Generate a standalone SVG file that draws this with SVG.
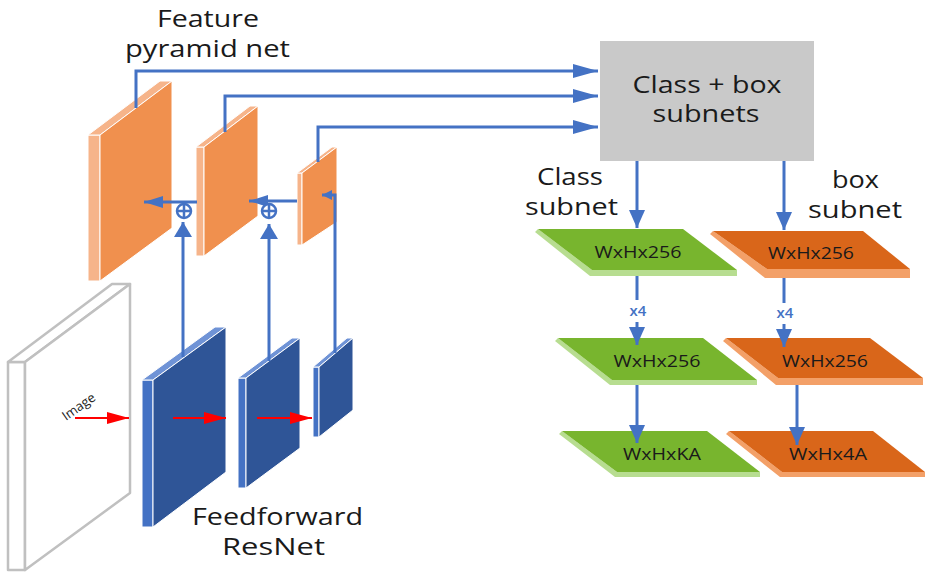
<svg xmlns="http://www.w3.org/2000/svg" width="929" height="572" viewBox="0 0 929 572">
  <style>
    .lbl { font-family: "Open Sans", "Noto Sans", "Liberation Sans", sans-serif; fill: #1a1a1a; }
    .big { font-size: 23px; }
    .dim { font-size: 17px; }
    .rep { font-size: 15px; font-weight: 600; fill: #4472C4; }
    .img { font-size: 13px; }
    .wire { fill: none; stroke: #4472C4; stroke-width: 3; }
    .red { fill: none; stroke: #FF0000; stroke-width: 2; }
    .org-front { fill: #F0904E; stroke: #ffffff; stroke-width: 1; }
    .org-light { fill: #F6B48A; stroke: #ffffff; stroke-width: 1; }
    .blu-front { fill: #2F5597; stroke: #ffffff; stroke-width: 1; }
    .blu-side { fill: #4472C4; stroke: #ffffff; stroke-width: 1; }
    .blu-top { fill: #6F93D6; stroke: #ffffff; stroke-width: 1; }
    .img-plate { fill: #ffffff; stroke: #C0C0C0; stroke-width: 2.5; stroke-linejoin: round; }
    .grn-top { fill: #78B52E; }
    .grn-edge { fill: #B7DD90; }
    .brn-top { fill: #D9661A; }
    .brn-edge { fill: #F3A068; }
  </style>
  <defs>
    <marker id="ah-lg" markerUnits="userSpaceOnUse" viewBox="0 0 25 14" markerWidth="25" markerHeight="14" refX="25" refY="7" orient="auto">
      <path d="M0,0 L25,7 L0,14 z" fill="#4472C4"/>
    </marker>
    <marker id="ah-md" markerUnits="userSpaceOnUse" viewBox="0 0 18 16" markerWidth="18" markerHeight="16" refX="18" refY="8" orient="auto">
      <path d="M0,0 L18,8 L0,16 z" fill="#4472C4"/>
    </marker>
    <marker id="ah-up" markerUnits="userSpaceOnUse" viewBox="0 0 15 18" markerWidth="15" markerHeight="18" refX="15" refY="9" orient="auto">
      <path d="M0,0 L15,9 L0,18 z" fill="#4472C4"/>
    </marker>
    <marker id="ah-lf" markerUnits="userSpaceOnUse" viewBox="0 0 19 12" markerWidth="19" markerHeight="12" refX="19" refY="6" orient="auto">
      <path d="M0,0 L19,6 L0,12 z" fill="#4472C4"/>
    </marker>
    <marker id="ah-sm" markerUnits="userSpaceOnUse" viewBox="0 0 10 10" markerWidth="10" markerHeight="10" refX="10" refY="5" orient="auto">
      <path d="M0,0 L10,5 L0,10 z" fill="#4472C4"/>
    </marker>
    <marker id="ah-red" markerUnits="userSpaceOnUse" viewBox="0 0 22 12" markerWidth="22" markerHeight="12" refX="22" refY="6" orient="auto">
      <path d="M0,0 L22,6 L0,12 z" fill="#FF0000"/>
    </marker>
  </defs>

  <!-- headings -->
  <g id="fpn-label">
    <text class="lbl big" x="208" y="27" text-anchor="middle" textLength="102" lengthAdjust="spacingAndGlyphs">Feature</text>
    <text class="lbl big" x="207.5" y="57" text-anchor="middle" textLength="165" lengthAdjust="spacingAndGlyphs">pyramid net</text>
  </g>
  <g id="resnet-label">
    <text class="lbl big" x="277.5" y="525" text-anchor="middle" textLength="171" lengthAdjust="spacingAndGlyphs">Feedforward</text>
    <text class="lbl big" x="273.5" y="555" text-anchor="middle" textLength="103" lengthAdjust="spacingAndGlyphs">ResNet</text>
  </g>

  <!-- input image slab -->
  <g id="image">
    <polygon class="img-plate" points="8,362 25,362 25,570 8,570"/>
    <polygon class="img-plate" points="8,362 112,284 130,284 25,362"/>
    <polygon class="img-plate" points="25,362 130,284 130,493 25,570"/>
    <text class="lbl img" transform="translate(66,421) rotate(-35)">Image</text>
  </g>

  <!-- feature pyramid levels -->
  <g id="fpn-p1">
    <polygon class="org-light" points="88,135 100,135 100,281 88,281"/>
    <polygon class="org-light" points="88,135 160,81 172,81 100,135"/>
    <polygon class="org-front" points="100,135 172,81 172,228 100,281"/>
  </g>
  <g id="fpn-p2">
    <polygon class="org-light" points="196,147 204,147 204,256 196,256"/>
    <polygon class="org-light" points="196,147 250,106 258,106 204,147"/>
    <polygon class="org-front" points="204,147 258,106 258,216 204,256"/>
  </g>
  <g id="fpn-p3">
    <polygon class="org-light" points="297,173 302,173 302,245 297,245"/>
    <polygon class="org-light" points="297,173 332,147 337,147 302,173"/>
    <polygon class="org-front" points="302,173 337,147 337,222 302,245"/>
  </g>

  <!-- backbone stages -->
  <g id="res-c1">
    <polygon class="blu-side" points="142,380 153,380 153,527 142,527"/>
    <polygon class="blu-top" points="142,380 215,327 226,327 153,380"/>
    <polygon class="blu-front" points="153,380 226,327 226,472 153,527"/>
  </g>
  <g id="res-c2">
    <polygon class="blu-side" points="238,378 246,378 246,488 238,488"/>
    <polygon class="blu-top" points="238,378 292,338 300,338 246,378"/>
    <polygon class="blu-front" points="246,378 300,338 300,448 246,488"/>
  </g>
  <g id="res-c3">
    <polygon class="blu-side" points="313,367 319,367 319,437 313,437"/>
    <polygon class="blu-top" points="313,367 347,338 353,338 319,367"/>
    <polygon class="blu-front" points="319,367 353,338 353,410 319,437"/>
  </g>

  <!-- head -->
  <g id="head">
    <rect x="600" y="41" width="214" height="120" fill="#C9C9C9"/>
    <text class="lbl big" x="707" y="93" text-anchor="middle" textLength="149" lengthAdjust="spacingAndGlyphs">Class + box</text>
    <text class="lbl big" x="706" y="122" text-anchor="middle" textLength="107" lengthAdjust="spacingAndGlyphs">subnets</text>
  </g>
  <g id="class-label">
    <text class="lbl big" x="570" y="185" text-anchor="middle" textLength="66" lengthAdjust="spacingAndGlyphs">Class</text>
    <text class="lbl big" x="571.5" y="215" text-anchor="middle" textLength="93" lengthAdjust="spacingAndGlyphs">subnet</text>
  </g>
  <g id="box-label">
    <text class="lbl big" x="855.5" y="188" text-anchor="middle" textLength="47" lengthAdjust="spacingAndGlyphs">box</text>
    <text class="lbl big" x="855" y="218" text-anchor="middle" textLength="94" lengthAdjust="spacingAndGlyphs">subnet</text>
  </g>

  <!-- class subnet maps -->
  <g id="cls-1">
    <polygon class="grn-edge" points="538,229 535,232 590,276 737,276 737,270 592,270"/>
    <polygon class="grn-top" points="538,229 683,229 737,270 592,270"/>
    <text class="lbl dim" x="638" y="258" text-anchor="middle" textLength="87" lengthAdjust="spacingAndGlyphs">WxHx256</text>
  </g>
  <g id="cls-2">
    <polygon class="grn-edge" points="558,338 555,341 610,385 757,385 757,380 612,380"/>
    <polygon class="grn-top" points="558,338 703,338 757,380 612,380"/>
    <text class="lbl dim" x="657" y="367" text-anchor="middle" textLength="87" lengthAdjust="spacingAndGlyphs">WxHx256</text>
  </g>
  <g id="cls-3">
    <polygon class="grn-edge" points="562,431 559,434 615,477 760,477 760,472 617,472"/>
    <polygon class="grn-top" points="562,431 707,431 760,472 617,472"/>
    <text class="lbl dim" x="662" y="460" text-anchor="middle" textLength="78" lengthAdjust="spacingAndGlyphs">WxHxKA</text>
  </g>

  <!-- box subnet maps -->
  <g id="box-1">
    <polygon class="brn-edge" points="713,231 710,234 765,278 910,278 910,269 767,269"/>
    <polygon class="brn-top" points="713,231 863,231 910,269 767,269"/>
    <text class="lbl dim" x="811" y="259" text-anchor="middle" textLength="86" lengthAdjust="spacingAndGlyphs">WxHx256</text>
  </g>
  <g id="box-2">
    <polygon class="brn-edge" points="726,338 723,341 776,385 923,385 923,378 778,378"/>
    <polygon class="brn-top" points="726,338 870,338 923,378 778,378"/>
    <text class="lbl dim" x="825" y="367" text-anchor="middle" textLength="86" lengthAdjust="spacingAndGlyphs">WxHx256</text>
  </g>
  <g id="box-3">
    <polygon class="brn-edge" points="729,431 726,434 780,477 925,477 925,472 782,472"/>
    <polygon class="brn-top" points="729,431 873,431 925,472 782,472"/>
    <text class="lbl dim" x="828" y="460" text-anchor="middle" textLength="78" lengthAdjust="spacingAndGlyphs">WxHx4A</text>
  </g>

  <!-- connectors -->
  <g id="connectors">
    <!-- pyramid levels to head -->
    <path class="wire" d="M136,108 V71 H598" marker-end="url(#ah-lg)"/>
    <path class="wire" d="M225,132 V96 H598" marker-end="url(#ah-lg)"/>
    <path class="wire" d="M318,162 V127 H598" marker-end="url(#ah-lg)"/>
    <!-- lateral connections -->
    <path class="wire" d="M183,357 V222" marker-end="url(#ah-up)"/>
    <path class="wire" d="M269,361 V224" marker-end="url(#ah-up)"/>
    <path class="wire" d="M335,353 V195 H322" marker-end="url(#ah-sm)"/>
    <!-- top-down pathway -->
    <path class="wire" d="M197,202 H144" marker-end="url(#ah-lf)"/>
    <path class="wire" d="M297,201 H249" marker-end="url(#ah-lf)"/>
    <g fill="#ffffff" stroke="#4472C4" stroke-width="2.5">
      <circle cx="184" cy="211" r="7"/>
      <path d="M177,211 H191 M184,204 V218"/>
      <circle cx="269" cy="211" r="7"/>
      <path d="M262,211 H276 M269,204 V218"/>
    </g>
    <!-- head branches -->
    <path class="wire" d="M637,161 V228" marker-end="url(#ah-md)"/>
    <path class="wire" d="M784,161 V230" marker-end="url(#ah-md)"/>
    <path class="wire" d="M637,276 V300"/>
    <text class="lbl rep" x="638" y="316" text-anchor="middle">x4</text>
    <path class="wire" d="M637,322 V345" marker-end="url(#ah-md)"/>
    <path class="wire" d="M784,278 V303"/>
    <text class="lbl rep" x="785" y="318" text-anchor="middle">x4</text>
    <path class="wire" d="M784,324 V347" marker-end="url(#ah-md)"/>
    <path class="wire" d="M637,385 V443" marker-end="url(#ah-md)"/>
    <path class="wire" d="M797,385 V445" marker-end="url(#ah-md)"/>
    <!-- forward pass -->
    <path class="red" d="M75,418 H129" marker-end="url(#ah-red)"/>
    <path class="red" d="M173,418 H226" marker-end="url(#ah-red)"/>
    <path class="red" d="M257,418 H312" marker-end="url(#ah-red)"/>
  </g>
</svg>
